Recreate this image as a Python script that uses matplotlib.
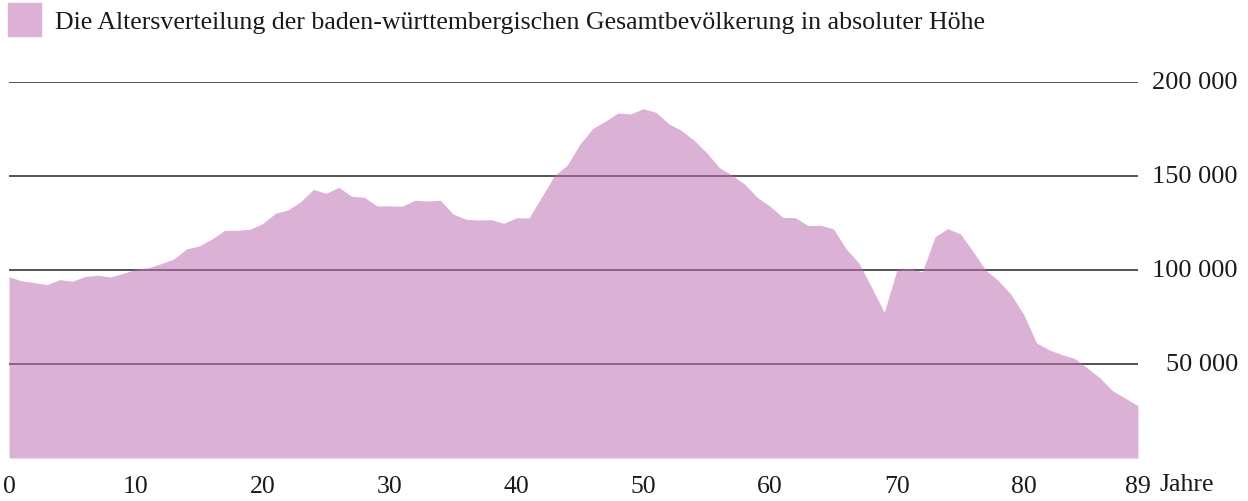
import matplotlib.pyplot as plt
import matplotlib.transforms as mtransforms
from matplotlib.patches import Rectangle

plt.rcParams['font.family'] = ['Liberation Serif', 'DejaVu Serif']

# Alter 0..89 und Einwohnerzahl je Altersjahr
alter = list(range(90))
einwohner = [
    96400, 94200, 93300, 92200, 94900, 94000, 96600, 97200, 96300, 98200,
    100400, 101200, 103400, 105900, 111200, 112800, 116500, 121100, 121100, 121700,
    124700, 130200, 131900, 136400, 142900, 140800, 144000, 139200, 138700, 134100,
    134100, 133900, 137100, 136700, 137100, 129800, 127000, 126600, 126800, 124800,
    127800, 127700, 139000, 150200, 155700, 166900, 175200, 179100, 183500, 183000,
    185800, 183900, 177800, 174300, 169000, 162400, 154400, 150400, 145600, 138500,
    133900, 128000, 127800, 123600, 123800, 121800, 111200, 103600, 90800, 77500,
    100200, 100900, 99000, 117700, 122000, 119200, 109800, 99900, 94300, 86900,
    76200, 61200, 57500, 55000, 53000, 47900, 42600, 35700, 31800, 27800,
]

y_ticks = [50000, 100000, 150000, 200000]
y_labels = ['50 000', '100 000', '150 000', '200 000']
x_ticks = [0, 10, 20, 30, 40, 50, 60, 70, 80, 89]
titel = 'Die Altersverteilung der baden-württembergischen Gesamtbevölkerung in absoluter Höhe'

fig = plt.figure(figsize=(12.48, 5.02), dpi=100)
ax = fig.add_axes([9 / 1248, 43 / 502, 1129 / 1248, 376 / 502])

# Gitterlinien unter der halbtransparenten Fläche
for v in y_ticks:
    ax.axhline(v, color='#262626', lw=1.1, zorder=1)

ax.fill_between(alter, einwohner, 0, color='#c06fb4', alpha=0.54, lw=0, zorder=2)

ax.set_xlim(0, 89)
ax.set_ylim(0, 200000)
for s in ax.spines.values():
    s.set_visible(False)
ax.set_yticks([])
ax.set_xticks(x_ticks)
ax.set_xticklabels([str(x) for x in x_ticks])
ax.tick_params(axis='x', length=0, pad=12, labelsize=18.5, labelcolor='#1a1a1a')

trans = mtransforms.blended_transform_factory(ax.transAxes, ax.transData)
for v, lab in zip(y_ticks, y_labels):
    ax.text(1 + 100 / 1129, v, lab, transform=trans, ha='right', va='center',
            fontsize=19, color='#1a1a1a')

ax.text(1 + 21 / 1129, -0.07, 'Jahre', transform=ax.transAxes, ha='left',
        va='center', fontsize=18.5, color='#1a1a1a')

# Legende oben links
fig.patches.append(Rectangle((8 / 1248, 1 - 37 / 502), 33 / 1248, 33 / 502,
                             transform=fig.transFigure, color='#ddb1d6'))
fig.text(55 / 1248, 1 - 23 / 502, titel, ha='left', va='center',
         fontsize=18.6, color='#1a1a1a')

fig.savefig('out.png', dpi=100)
